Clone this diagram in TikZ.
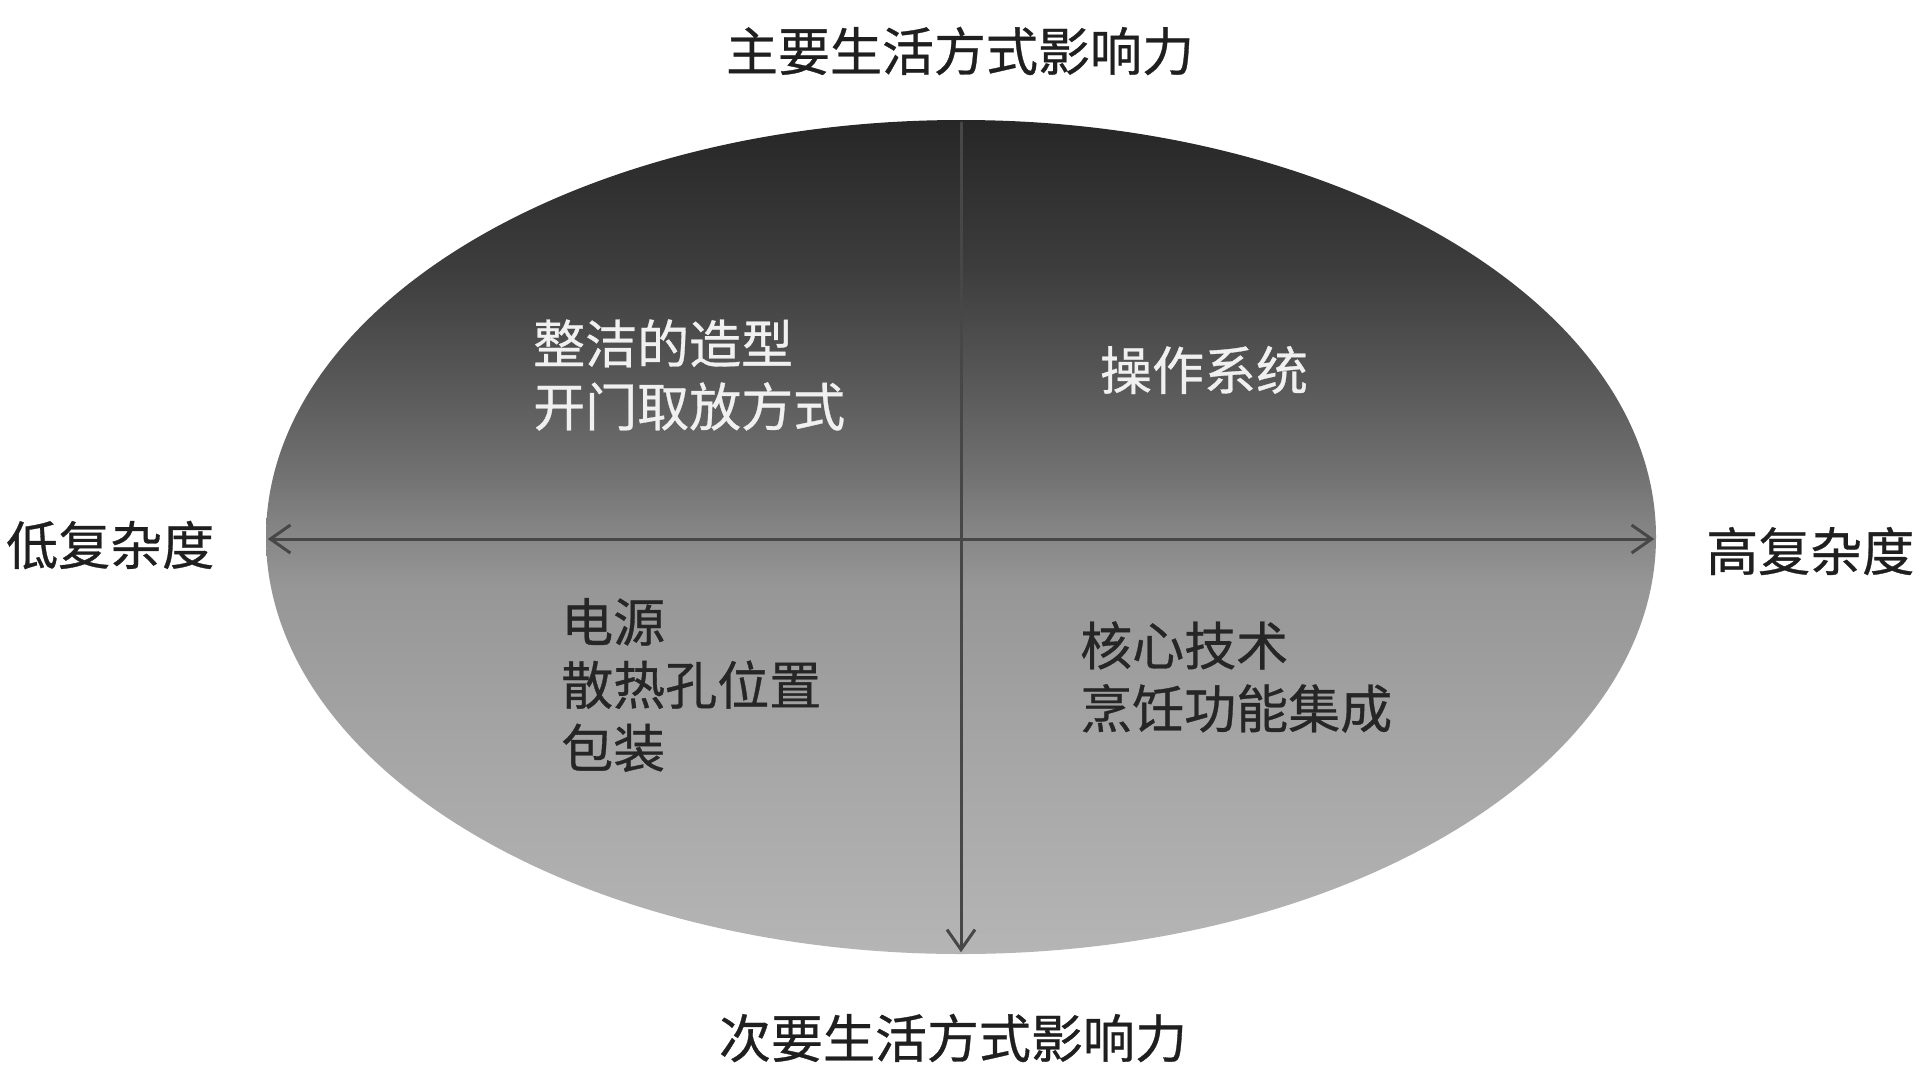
\documentclass[tikz,border=0pt]{standalone}
\usepackage{fontspec}
\setmainfont{Noto Sans CJK SC}[FakeBold=0.6]
\usetikzlibrary{shapes.geometric,arrows.meta}
\pgfdeclareverticalshading{ellshade}{100bp}{%
  color(0bp)=(black!29); color(25bp)=(black!29); color(37bp)=(black!35);
  color(47bp)=(black!41); color(50.5bp)=(black!48); color(54bp)=(black!56);
  color(59bp)=(black!65); color(66bp)=(black!76); color(75bp)=(black!85); color(100bp)=(black!85)}
\begin{document}
\begin{tikzpicture}[x=1pt,y=-1pt,
  lbl/.style={font=\fontsize{52}{64}\selectfont, text=black!88, inner sep=0pt},
  quad/.style={font=\fontsize{52}{63}\selectfont, inner sep=0pt, align=left, anchor=west},
  upq/.style={quad, text=white!94!black},
  loq/.style={quad, text=black!85},
  axisline/.style={line width=3pt, draw=black!72, line cap=round},
  tipend/.style={-{Straight Barb[length=20pt,width=28pt,line width=3pt]}},
  tipboth/.style={{Straight Barb[length=20pt,width=28pt,line width=3pt]}-{Straight Barb[length=20pt,width=28pt,line width=3pt]}}
]
\useasboundingbox[fill=white] (0,0) rectangle (1920,1077);

\node[ellipse, inner sep=0pt, minimum width=1390pt, minimum height=834pt,
      shading=ellshade]
      (E) at (961,537) {};

\draw[axisline, tipboth] ([xshift=2pt]E.west |- 0,539) coordinate (hl) -- ([xshift=-2pt]E.east |- 0,539) coordinate (hr);
\draw[axisline, tipend] ([yshift=-3pt]E.north) -- ([yshift=2pt]E.south);

\node[lbl] (top) at (960,51) {主要生活方式影响力};
\node[lbl] (bot) at (953,1038) {次要生活方式影响力};
\node[lbl, anchor=west] (lft) at (6,545) {低复杂度};
\node[lbl, anchor=west] (rgt) at (1706,551) {高复杂度};

\node[upq] (ul) at (533,375) {整洁的造型\\开门取放方式};
\node[upq, anchor=center] (ur) at (1204,370) {操作系统};
\node[loq] (ll) at (561,685) {电源\\散热孔位置\\包装};
\node[loq] (lr) at (1080,677) {核心技术\\烹饪功能集成};
\end{tikzpicture}
\end{document}
